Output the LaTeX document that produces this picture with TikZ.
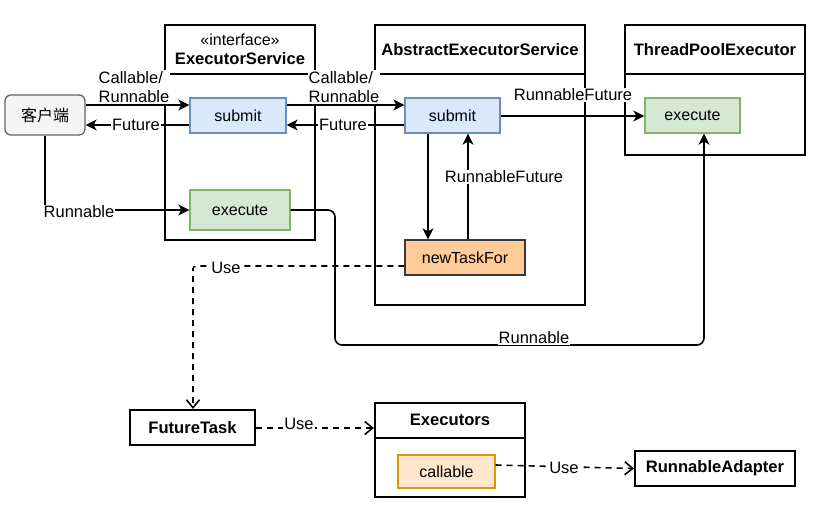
\documentclass[tikz,border=0pt]{standalone}
\usepackage{fontspec}
\setmainfont{Liberation Sans}
\newfontfamily\cjk{Noto Sans CJK SC}
\usetikzlibrary{arrows.meta,fit}
\definecolor{subfill}{HTML}{DAE8FC}\definecolor{subdraw}{HTML}{6C8EBF}
\definecolor{exfill}{HTML}{D5E8D4}\definecolor{exdraw}{HTML}{82B366}
\definecolor{ntffill}{HTML}{FFCC99}\definecolor{ntfdraw}{HTML}{36393D}
\definecolor{calfill}{HTML}{FFE6CC}\definecolor{caldraw}{HTML}{D79B00}
\definecolor{clifill}{HTML}{F5F5F5}\definecolor{clidraw}{HTML}{666666}
\begin{document}
\begin{tikzpicture}[x=1pt,y=-1pt,
  font=\fontsize{16}{19}\selectfont,
  frame/.style={draw, line width=2pt, inner sep=0pt},
  method/.style={draw, line width=1.3pt, inner sep=0pt, text=black!85},
  plain/.style={draw, line width=2pt, inner sep=0pt},
  ttl/.style={font=\fontsize{16.6}{19}\selectfont\bfseries, inner sep=0pt},
  lbl/.style={fill=white, inner sep=1pt, text=black, font=\fontsize{16.5}{19}\selectfont},
  arr/.style={line width=1.6pt, -{Stealth[length=11pt,width=11pt,inset=3pt]}},
  use/.style={line width=1.6pt, dash pattern=on 6pt off 5pt, -{Straight Barb[length=8pt,width=13pt]}},
]
\path[use as bounding box] (0,0) rectangle (815,512);

% frames
\node[frame, fit={(165,25) (315,240)}] (es) {};
\draw[line width=2pt] (165,74) -- (315,74);
\node[inner sep=0pt] (esst) at (240,40) {«interface»};
\node[ttl] (estt) at (240,59) {ExecutorService};

\node[frame, fit={(375,25) (585,305)}] (aes) {};
\draw[line width=2pt] (375,74) -- (585,74);
\node[ttl] (aestt) at (480,50) {AbstractExecutorService};

\node[frame, fit={(625,25) (805,155)}] (tpe) {};
\draw[line width=2pt] (625,74) -- (805,74);
\node[ttl] (tpett) at (715,50) {ThreadPoolExecutor};

\node[frame, fit={(375,403) (525,497)}] (exs) {};
\draw[line width=2pt] (375,438) -- (525,438);
\node[ttl] (exstt) at (450,420) {Executors};

% boxes
\node[draw=clidraw, fill=clifill, line width=1.3pt, rounded corners=6pt, fit={(5,95) (85,135)}, inner sep=0pt] (cli) {};
\node at (cli.center) {\cjk 客户端};

\node[method, draw=subdraw, fill=subfill, fit={(190,98) (286,133)}] (essub) {};
\node at (essub.center) {submit};
\node[method, draw=exdraw, fill=exfill, fit={(190,190) (290,230)}] (esex) {};
\node at (esex.center) {execute};

\node[method, draw=subdraw, fill=subfill, fit={(405,98) (500,133)}] (aessub) {};
\node at (aessub.center) {submit};
\node[method, draw=ntfdraw, fill=ntffill, fit={(405,240) (525,275)}] (ntf) {};
\node at (ntf.center) {newTaskFor};

\node[method, draw=exdraw, fill=exfill, fit={(645,98) (740,133)}] (tpeex) {};
\node at (tpeex.center) {execute};

\node[method, draw=caldraw, fill=calfill, fit={(398,455) (495,488)}] (cal) {};
\node at (cal.center) {callable};

\node[plain, fit={(130,410) (255,445)}] (ft) {};
\node[ttl] at (ft.center) {FutureTask};
\node[plain, fit={(635,451) (795,486)}] (ra) {};
\node[ttl] at (ra.center) {RunnableAdapter};

% connectors
\draw[arr] (cli.east |- 0,105) -- (essub.west |- 0,105);
\draw[arr] (essub.west |- 0,125) -- (cli.east |- 0,125);
\draw[arr] (cli.south -| 45,0) -- (45,210) -- (esex.west);
\draw[arr] (essub.east |- 0,105) -- (aessub.west |- 0,105);
\draw[arr] (aessub.west |- 0,125) -- (essub.east |- 0,125);
\draw[arr] (aessub.south -| 428,0) -- (ntf.north -| 428,0);
\draw[arr] (ntf.north -| 468,0) -- (aessub.south -| 468,0);
\draw[arr] (aessub.east |- 0,116) -- (tpeex.west |- 0,116);
\draw[arr, rounded corners=7pt] (esex.east) -- (335,210) -- (335,345) -- (704,345) -- (tpeex.south -| 704,0);
\draw[use, rounded corners=3pt] (ntf.west |- 0,266) -- (193,266) -- (ft.north -| 193,0);
\draw[use] (ft.east |- 0,428) -- (exs.west |- 0,428);
\draw[use] (cal.east |- 0,465) -- (ra.west);

% labels
\node[lbl, align=left] (l1) at (134,87) {Callable/\\Runnable};
\node[lbl] (l2) at (136,125) {Future};
\node[lbl] (l3) at (79,212) {Runnable};
\node[lbl, align=left] (l4) at (344,87) {Callable/\\Runnable};
\node[lbl] (l5) at (343,125) {Future};
\node[lbl] (l6) at (504,177) {RunnableFuture};
\node[lbl] (l7) at (573,95) {RunnableFuture};
\node[lbl] (l8) at (534,338) {Runnable};
\node[lbl] (l9) at (226,268) {Use};
\node[lbl] (l10) at (299,424) {Use};
\node[lbl] (l11) at (564,468) {Use};
\end{tikzpicture}
\end{document}
